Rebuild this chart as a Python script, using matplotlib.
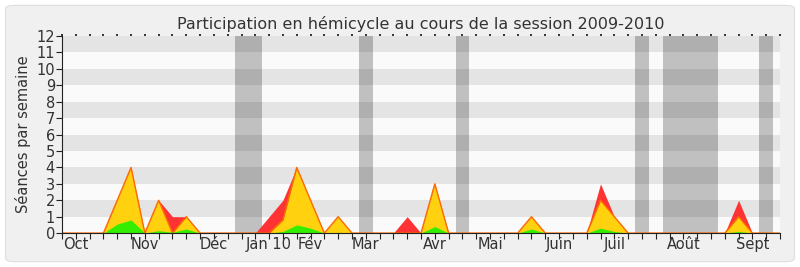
import matplotlib
matplotlib.use("Agg")
import matplotlib.pyplot as plt
from matplotlib.patches import FancyBboxPatch

# ---- data ----
weeks = list(range(53))
red_total = [0, 0, 0, 0, 2, 4, 0, 2, 1, 1, 0, 0, 0, 0, 0, 1, 2, 4, 2, 0,
             1, 0, 0, 0, 0, 1, 0, 3, 0, 0, 0, 0, 0, 0, 1, 0, 0, 0, 0, 3,
             1, 0, 0, 0, 0, 0, 0, 0, 0, 2, 0, 0, 0]
yellow_vals = [0, 0, 0, 0, 2, 4, 0, 2, 0, 1, 0, 0, 0, 0, 0, 0, 0.8, 4, 2, 0,
               1, 0, 0, 0, 0, 0, 0, 3, 0, 0, 0, 0, 0, 0, 1, 0, 0, 0, 0, 2,
               1, 0, 0, 0, 0, 0, 0, 0, 0, 1, 0, 0, 0]
green_vals = [0, 0, 0, 0, 0.55, 0.8, 0, 0.15, 0.05, 0.25, 0, 0, 0, 0, 0, 0, 0.1, 0.5, 0.3, 0,
              0.05, 0, 0, 0, 0, 0, 0, 0.4, 0, 0, 0, 0, 0, 0, 0.25, 0, 0, 0, 0, 0.3,
              0.1, 0, 0, 0, 0, 0, 0, 0, 0, 0.1, 0, 0, 0]
vacation_bands = [(12.5, 14.5), (21.5, 22.5), (28.5, 29.5), (41.5, 42.5), (43.5, 47.5), (50.5, 51.5)]
month_labels = ["Oct", "Nov", "Déc", "Jan 10", "Fév", "Mar", "Avr", "Mai", "Juin", "Juil", "Août", "Sept"]
month_weeks = [1, 6, 11, 15, 18, 22, 27, 31, 36, 40, 45, 50]
y_ticks = list(range(13))

fig = plt.figure(figsize=(8, 2.67), dpi=100, facecolor="white")
bg = FancyBboxPatch((0.007, 0.02), 0.986, 0.96, boxstyle="round,pad=0,rounding_size=0.012",
                    transform=fig.transFigure, facecolor="#f0f0f0", edgecolor="#dedede",
                    linewidth=0.8, zorder=-10)
fig.patches.append(bg)

ax = fig.add_axes([0.0775, 0.127, 0.8975, 0.738])
ax.set_facecolor("#fafafa")
ax.set_xlim(0, 52)
ax.set_ylim(0, 12)

for a, b in vacation_bands:
    ax.axvspan(a, b, color="#c0c0c0", zorder=0.5, lw=0)
for k in range(1, 12, 2):
    ax.axhspan(k, k + 1, color="black", alpha=0.085, zorder=0.6, lw=0)

ax.fill_between(weeks, 0, red_total, color="#ff3333", lw=0, zorder=2)
ax.fill_between(weeks, 0, yellow_vals, color="#ffd10f", lw=0, zorder=3)
ax.plot(weeks, yellow_vals, color="#ff6a00", lw=1.0, zorder=3.5)
ax.fill_between(weeks, 0, green_vals, color="#33ee00", lw=0, zorder=4)

for s in ["top", "right"]:
    ax.spines[s].set_visible(False)
ax.spines["left"].set_color("#222222")
ax.spines["bottom"].set_color("#222222")
ax.spines["left"].set_zorder(6)
ax.spines["bottom"].set_zorder(6)

ax.set_yticks(y_ticks)
ax.set_yticklabels([str(v) for v in y_ticks], fontsize=10.5, color="#333333")
ax.tick_params(axis="y", length=4, width=0.8, color="#222222", pad=1)

ax.xaxis.remove_overlapping_locs = False
ax.set_xticks(weeks)
ax.set_xticklabels([""] * len(weeks))
ax.tick_params(axis="x", which="major", length=4, width=0.8, color="#222222",
               top=True, direction="out")
ax.set_xticks(month_weeks, minor=True)
ax.set_xticklabels(month_labels, minor=True, fontsize=10.5, color="#333333")
ax.tick_params(axis="x", which="minor", length=0, pad=3, top=False)
# top ticks as tiny dots
for t in ax.xaxis.get_major_ticks():
    t.tick2line.set_markersize(1.6)
    t.tick2line.set_markeredgewidth(1.3)

ax.set_ylabel("Séances par semaine", fontsize=10.5, color="#333333", labelpad=4)
ax.set_title("Participation en hémicycle au cours de la session 2009-2010",
             fontsize=11.5, color="#333333", pad=5)

fig.savefig("out.png", dpi=100, facecolor=fig.get_facecolor())
